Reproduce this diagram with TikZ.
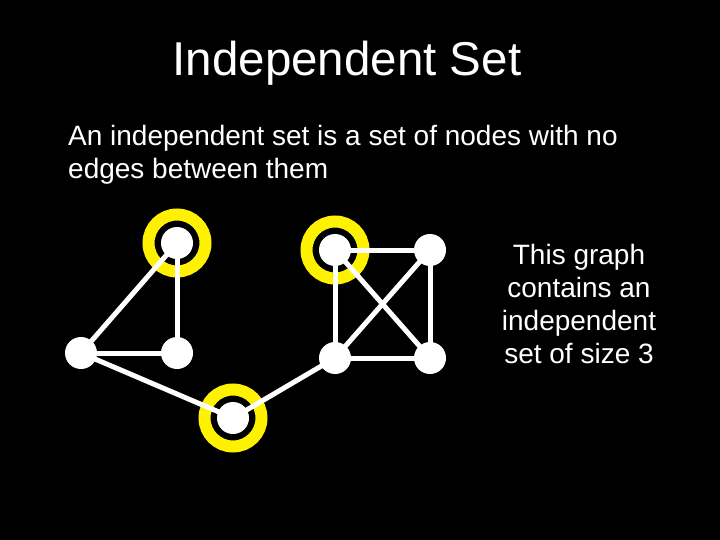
\documentclass[tikz,border=0pt]{standalone}
\usepackage{fontspec}
\setmainfont{Liberation Sans}
\begin{document}
\begin{tikzpicture}[x=1pt,y=-1pt,
  vtx/.style={circle,fill=white,minimum size=32pt,inner sep=0pt},
  ring/.style={draw=yellow,line width=12pt},
  edge/.style={draw=white,line width=5pt},
  txt/.style={text=white,font=\fontsize{28}{33}\selectfont}]
\fill[black] (0,0) rectangle (720,540);
\useasboundingbox (0,0) rectangle (720,540);
\node[text=white,font=\fontsize{47.5}{50}\selectfont,anchor=base,inner sep=0pt] (title) at (347,76) {Independent Set};
\node[txt,anchor=base west,align=left,inner sep=0pt] (desc) at (68,179) {An independent set is a set of nodes with no\\edges between them};
\node[txt,anchor=base,align=center,inner sep=0pt] (note) at (579,363) {This graph\\contains an\\independent\\set of size 3};
% rings
\draw[ring] (177,243) circle (28.5);
\draw[ring] (233,418) circle (28.5);
\draw[ring] (335,250) circle (28.5);
% vertices
\node[vtx] (a) at (177,243) {};
\node[vtx] (b) at (81,353) {};
\node[vtx] (c) at (177,353) {};
\node[vtx] (d) at (233,418) {};
\node[vtx] (e) at (335,250) {};
\node[vtx] (f) at (430,250) {};
\node[vtx] (g) at (335,358) {};
\node[vtx] (h) at (430,358) {};
% edges
\foreach \u/\v in {a/b,a/c,b/c,b/d,d/g,e/f,e/g,e/h,f/g,f/h,g/h}
  \draw[edge] (\u.center) -- (\v.center);
\end{tikzpicture}
\end{document}
